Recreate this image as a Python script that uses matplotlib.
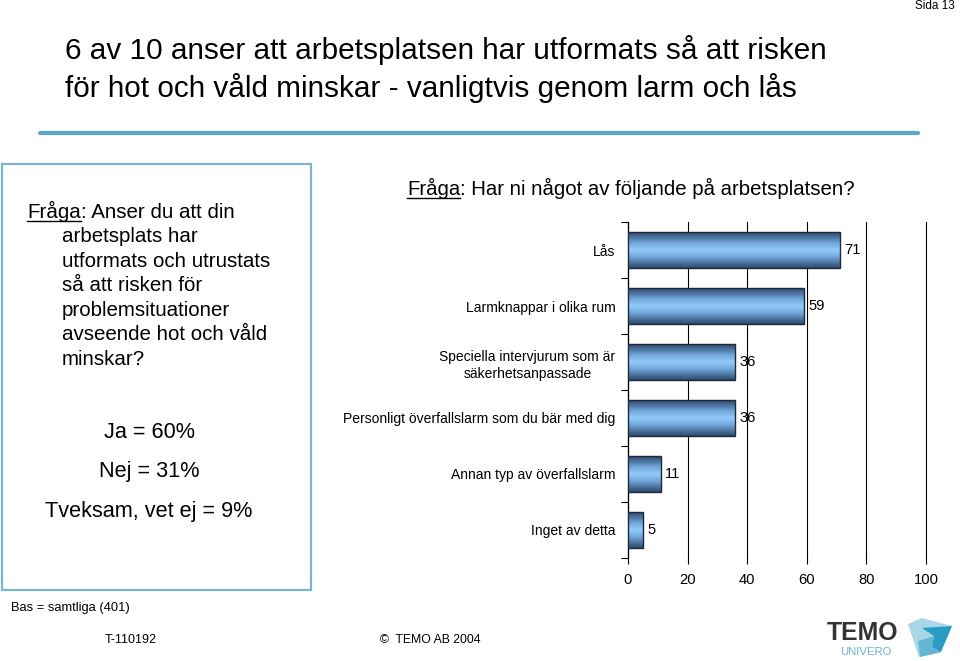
import numpy as np
import matplotlib.pyplot as plt
from matplotlib.colors import LinearSegmentedColormap
from matplotlib.patches import Rectangle, Polygon
from matplotlib.lines import Line2D

plt.rcParams['font.family'] = ['Liberation Sans', 'DejaVu Sans']

# data
categories = ['Lås', 'Larmknappar i olika rum',
              'Speciella intervjurum som är\nsäkerhetsanpassade',
              'Personligt överfallslarm som du bär med dig',
              'Annan typ av överfallslarm', 'Inget av detta']
values = [71, 59, 36, 36, 11, 5]
xticks = [0, 20, 40, 60, 80, 100]
answers = ['Ja = 60%', 'Nej = 31%', 'Tveksam, vet ej = 9%']

W, H = 960, 661
fig = plt.figure(figsize=(W / 100, H / 100), dpi=100)
renderer = fig.canvas.get_renderer()


def fx(px):
    return px / W


def fy(py):
    return 1 - py / H


def underlined_lead(x, y, lead, rest, size):
    # "Fråga" underlined, then the rest of the line after it
    t = fig.text(fx(x), fy(y), lead, fontsize=size, va='baseline', ha='left')
    bb = t.get_window_extent(renderer)
    fig.text(bb.x1 / W, fy(y), rest, fontsize=size, va='baseline', ha='left')
    uy = fy(y) - 3 / H
    fig.add_artist(Line2D([bb.x0 / W, bb.x1 / W], [uy, uy], color='black',
                          lw=1.0, transform=fig.transFigure))


# header
fig.text(fx(955), fy(6), 'Sida 13', fontsize=8.5, ha='right', va='center')
fig.text(fx(65), fy(50), '6 av 10 anser att arbetsplatsen har utformats så att risken',
         fontsize=21.4, ha='left', va='center')
fig.text(fx(65), fy(88), 'för hot och våld minskar - vanligtvis genom larm och lås',
         fontsize=21.4, ha='left', va='center')
fig.add_artist(Line2D([fx(40), fx(918)], [fy(133), fy(133)], color='#5ea8c7',
                      lw=3, solid_capstyle='round', transform=fig.transFigure))

# left question box
fig.add_artist(Rectangle((fx(2), fy(590)), fx(309), (590 - 164) / H, fill=False,
                         edgecolor='#78b6d0', lw=1.6, transform=fig.transFigure))
underlined_lead(27, 218, 'Fråga', ': Anser du att din', 14.8)
q_lines = ['arbetsplats har', 'utformats och utrustats', 'så att risken för',
           'problemsituationer', 'avseende hot och våld', 'minskar?']
for i, line in enumerate(q_lines):
    fig.text(fx(62), fy(242 + i * 24.6), line, fontsize=14.8, ha='left', va='baseline')
for i, a in enumerate(answers):
    fig.text(fx(149), fy(432 + i * 39.5), a, fontsize=15.6, ha='center', va='center')

# right question
underlined_lead(407, 195, 'Fråga', ': Har ni något av följande på arbetsplatsen?', 14.7)

# bar chart
ax = fig.add_axes([fx(628), fy(558), fx(926) - fx(628), (558 - 222) / H])
y = np.arange(len(categories))
bars = ax.barh(y, values, height=0.63, color='none', edgecolor='#1c2a40',
               linewidth=1.0, zorder=4)
cmap = LinearSegmentedColormap.from_list(
    'bar', [(0, '#2f4a6b'), (0.3, '#6fa6da'), (0.5, '#93cdfc'),
            (0.7, '#6fa6da'), (1, '#2f4a6b')])
grad = np.linspace(0, 1, 64).reshape(-1, 1)
for b in bars:
    x0, y0, w, h = b.get_x(), b.get_y(), b.get_width(), b.get_height()
    ax.imshow(grad, cmap=cmap, aspect='auto', extent=(x0, x0 + w, y0 + h, y0),
              zorder=3, interpolation='bicubic')
for yi, v in zip(y, values):
    ax.text(v + 1.5, yi, str(v), fontsize=10.6, ha='left', va='center', zorder=5)

ax.set_xlim(0, 100)
ax.set_ylim(len(categories) - 0.5, -0.5)
ax.set_xticks(xticks)
ax.set_xticklabels([str(t) for t in xticks], fontsize=10.6)
ax.tick_params(axis='x', direction='out', length=4, width=0.8, pad=7)
ax.set_yticks(np.arange(len(categories) + 1) - 0.5)
ax.set_yticklabels([])
ax.set_yticks(y, minor=True)
ax.set_yticklabels(categories, minor=True, fontsize=10.0, multialignment='center',
                   linespacing=1.35)
ax.tick_params(axis='y', which='major', direction='out', length=5, width=0.8)
ax.tick_params(axis='y', which='minor', length=0, pad=9)
ax.grid(axis='x', color='black', lw=0.8, zorder=1)
for gl in ax.get_xgridlines():
    gl.set_clip_on(False)
ax.set_axisbelow(True)
for s in ['top', 'right', 'bottom']:
    ax.spines[s].set_visible(False)
ax.spines['left'].set_linewidth(0.9)

# footer
fig.text(fx(11), fy(608), 'Bas = samtliga (401)', fontsize=9.3, ha='left', va='center')
fig.text(fx(105), fy(640), 'T-110192', fontsize=9, ha='left', va='center')
fig.text(fx(380), fy(640), '©  TEMO AB 2004', fontsize=8.8, ha='left', va='center')

# logo
fig.text(fx(827), fy(633), 'TEMO', fontsize=17.8, fontweight='bold', color='#333333',
         ha='left', va='center')
fig.text(fx(840), fy(652), 'UNIVERO', fontsize=8.2, color='#6db1cf', ha='left', va='center')
light = [(908, 624), (922, 618), (952, 626), (940, 653), (919, 657)]
dark = [(922, 628), (952, 626), (941, 652), (932, 647), (934, 636)]
mid = [(918, 641), (934, 636), (932, 647), (941, 652), (920, 657)]
for pts, col in [(light, '#a9d7e8'), (dark, '#2a9cc3'), (mid, '#64b6d3')]:
    fig.add_artist(Polygon([(fx(a), fy(b)) for a, b in pts], closed=True,
                           facecolor=col, edgecolor='none', transform=fig.transFigure))

fig.savefig('out.png', dpi=100)
